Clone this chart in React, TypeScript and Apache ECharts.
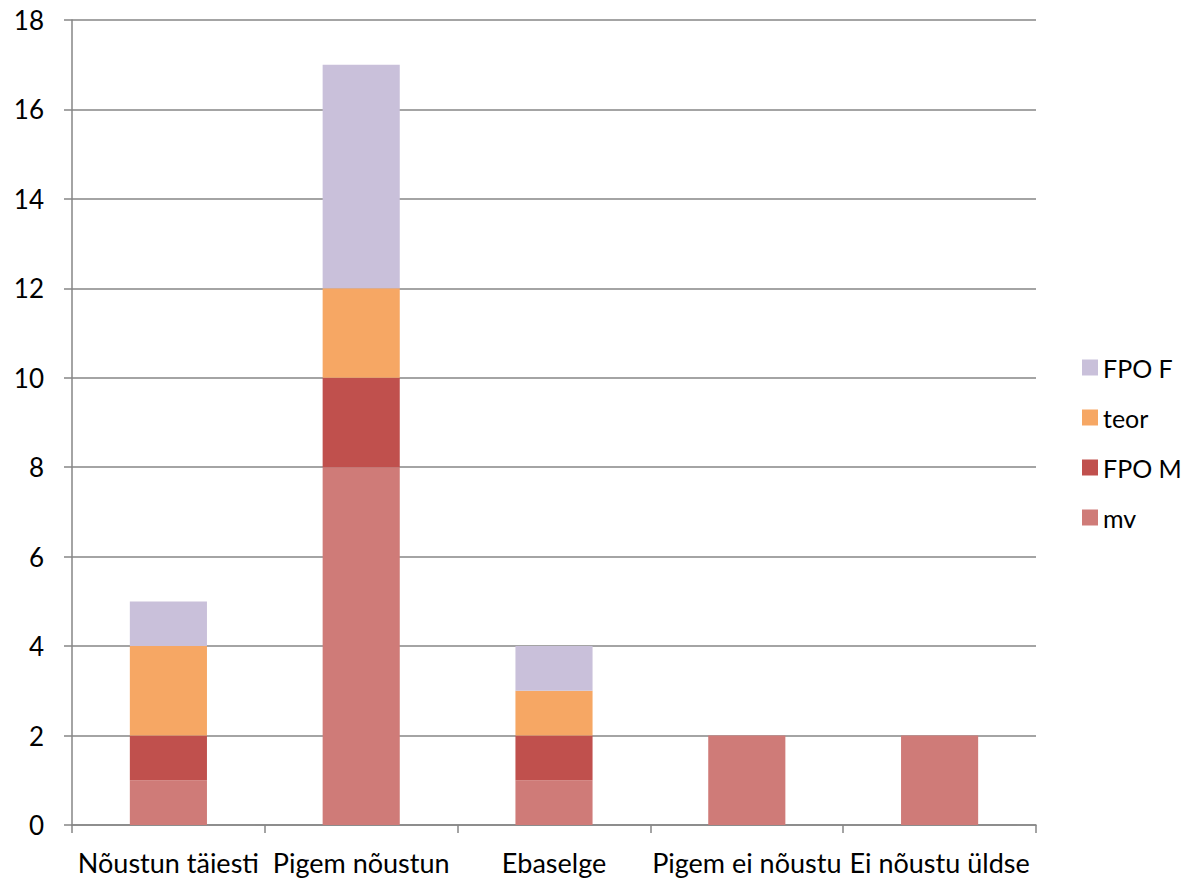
import React, { useEffect, useRef } from "react";
import * as echarts from "echarts";

const categories = ["Nõustun täiesti", "Pigem nõustun", "Ebaselge", "Pigem ei nõustu", "Ei nõustu üldse"];
const mv = [1, 8, 1, 2, 2];
const fpoM = [1, 2, 1, 0, 0];
const teor = [2, 2, 1, 0, 0];
const fpoF = [1, 5, 1, 0, 0];
const legendOrder = ["FPO F", "teor", "FPO M", "mv"];

const FONT = "Lato, 'Open Sans', sans-serif";

export default function App() {
  const ref = useRef<HTMLDivElement>(null);
  useEffect(() => {
    if (!ref.current) return;
    const chart = echarts.init(ref.current, undefined, { renderer: "svg" });
    const mk = (name: string, data: number[], color: string) => ({
      name,
      type: "bar",
      stack: "total",
      data: data.map((v) => (v === 0 ? null : v)),
      barWidth: "40%",
      itemStyle: { color },
    });
    chart.setOption({
      animation: false,
      backgroundColor: "#ffffff",
      textStyle: { fontFamily: FONT },
      grid: { left: 72, right: 149, top: 20, bottom: 55, containLabel: false },
      legend: {
        orient: "vertical",
        left: 1077,
        top: 350,
        itemWidth: 16,
        itemHeight: 16,
        itemGap: 25,
        icon: "rect",
        data: legendOrder,
        textStyle: { fontSize: 25, color: "#000", fontFamily: FONT },
      },
      xAxis: {
        type: "category",
        data: categories,
        axisLine: { show: true, lineStyle: { color: "#868686", width: 1.5 } },
        axisTick: { show: true, length: 8, lineStyle: { color: "#868686", width: 1.5 } },
        axisLabel: { fontSize: 27, color: "#000", margin: 24, fontFamily: FONT, interval: 0 },
      },
      yAxis: {
        type: "value",
        min: 0,
        max: 18,
        interval: 2,
        axisLine: { show: true, lineStyle: { color: "#868686", width: 1.5 } },
        axisTick: { show: true, length: 8, lineStyle: { color: "#868686", width: 1.5 } },
        axisLabel: { fontSize: 26, color: "#000", margin: 28, fontFamily: FONT },
        splitLine: { show: true, lineStyle: { color: "#868686", width: 1.5 } },
      },
      series: [
        mk("mv", mv, "#CF7B78"),
        mk("FPO M", fpoM, "#C0504D"),
        mk("teor", teor, "#F6A764"),
        mk("FPO F", fpoF, "#C9C0DA"),
      ],
    });
    return () => chart.dispose();
  }, []);
  return (
    <div
      ref={ref}
      style={{ position: "fixed", left: 0, top: 0, width: 1185, height: 880 }}
    />
  );
}
